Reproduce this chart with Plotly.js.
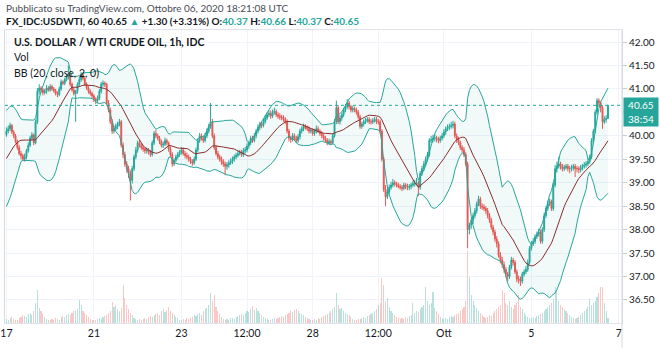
<!DOCTYPE html>
<html><head><meta charset="utf-8">
<script src="https://cdn.plot.ly/plotly-3.0.1.min.js"></script>
<style>html,body{margin:0;padding:0;background:#fff}#chart{width:660px;height:348px}</style>
</head><body><div id="chart"></div>
<script>
// Trading days shown (1h bars, 24 per day, weekends skipped)
const tradingDays = ['09-17','09-18','09-21','09-22','09-23','09-24','09-25','09-28','09-29','09-30','10-01','10-02','10-05','10-06','10-07'];
const tickTimes  = ['09-17 00','09-21 00','09-23 00','09-24 12','09-28 00','09-29 12','10-01 00','10-05 00','10-07 00'];
const tickLabels = ['17','21','23','12:00','28','12:00','Ott','5','7'];

// closes of the 20 hourly bars before the first visible bar (needed by BB(20))
const warmupClose = [38.80,38.82,38.78,38.85,38.90,38.92,38.95,39.05,39.20,39.40,39.55,39.70,39.85,39.90,40.00,40.05,39.98,40.10,40.15,40.05];

const open = [
40.02,40.10,40.15,40.22,40.08,40.00,39.88,39.75,39.62,39.58,
39.50,39.55,39.68,39.80,39.95,40.02,39.85,40.30,40.95,41.02,
40.98,40.92,40.95,41.02,40.98,41.05,41.00,40.96,40.90,40.88,
41.00,41.15,41.12,41.20,41.25,41.30,41.10,40.98,40.90,40.95,
41.10,41.20,41.30,41.22,41.10,41.02,40.95,40.90,40.85,40.78,
40.75,40.80,40.95,41.10,41.12,41.10,40.70,40.55,40.30,40.10,
40.15,40.20,40.25,40.30,39.80,39.60,39.40,39.30,39.20,39.05,
39.30,39.55,39.70,39.85,39.80,39.75,39.72,39.68,39.70,39.65,
39.60,39.85,40.05,40.00,39.95,39.88,39.80,39.82,39.90,39.85,
39.72,39.60,39.40,39.48,39.55,39.60,39.65,39.70,39.62,39.58,
39.55,39.50,39.45,39.42,39.50,39.70,39.90,40.00,39.95,39.90,
40.00,40.10,40.20,40.30,40.00,39.75,39.62,39.55,39.50,39.45,
39.40,39.35,39.38,39.42,39.45,39.50,39.55,39.58,39.62,39.65,
39.60,39.68,39.70,39.78,39.85,39.95,39.90,40.00,40.10,40.18,
40.25,40.22,40.30,40.38,40.45,40.48,40.42,40.50,40.52,40.45,
40.42,40.40,40.38,40.35,40.30,40.10,39.95,39.92,40.00,39.95,
39.90,39.98,40.10,40.15,40.20,40.18,40.15,40.10,40.12,40.05,
40.10,40.15,40.10,40.05,40.00,39.95,39.90,39.85,39.88,39.85,
40.00,40.30,40.60,40.30,40.38,40.45,40.55,40.62,40.70,40.62,
40.55,40.58,40.55,40.50,40.40,40.20,40.25,40.30,40.32,40.35,
40.30,40.30,40.32,40.35,40.30,40.30,40.10,39.50,38.85,38.70,
38.80,38.90,38.95,39.00,38.98,38.95,38.92,38.90,38.88,38.95,
38.92,38.90,38.92,38.95,38.98,39.00,39.00,38.90,39.20,39.30,
39.40,39.50,39.60,39.90,39.92,39.95,39.95,39.92,39.90,39.95,
40.00,40.08,40.15,40.18,40.20,40.22,40.25,40.00,39.92,39.85,
39.75,39.70,39.60,39.40,38.00,38.10,38.20,38.30,38.40,38.55,
38.65,38.50,38.48,38.45,38.40,38.30,38.20,38.05,37.95,37.80,
37.70,37.45,37.35,37.25,37.15,37.05,37.00,37.20,37.35,37.30,
37.10,36.95,36.92,36.90,37.05,37.10,37.15,37.30,37.60,37.70,
37.75,37.85,37.90,37.95,37.75,38.00,38.30,38.45,38.55,38.60,
38.45,38.95,39.30,39.35,39.40,39.35,39.30,39.32,39.35,39.30,
39.30,39.32,39.35,39.30,39.30,39.28,39.32,39.35,39.38,39.40,
39.45,39.55,39.90,40.10,40.50,40.75,40.70,40.60,40.30,40.35,40.37];
const high = [
40.18,40.22,40.28,40.25,40.12,40.04,39.92,39.80,39.68,39.62,
39.62,39.72,39.86,40.00,40.08,40.05,40.35,41.02,41.10,41.06,
41.02,41.00,41.08,41.06,41.10,41.09,41.04,41.00,40.95,41.05,
41.20,41.18,41.24,41.32,41.50,41.34,41.14,41.02,40.98,41.14,
41.26,41.36,41.34,41.26,41.14,41.06,40.99,40.94,40.89,40.82,
40.86,41.00,41.15,41.18,41.16,41.13,40.76,40.60,40.36,40.22,
40.26,40.30,40.36,40.34,39.86,39.66,39.46,39.36,39.26,39.36,
39.60,39.76,39.90,39.90,39.84,39.80,39.76,39.75,39.74,39.70,
39.90,40.10,40.12,40.05,40.00,39.92,39.88,39.96,39.94,39.88,
39.78,39.65,39.52,39.60,39.66,39.70,39.76,39.75,39.68,39.64,
39.60,39.55,39.50,39.56,39.75,39.95,40.06,40.05,40.00,40.06,
40.16,40.26,40.70,40.36,40.05,39.80,39.68,39.60,39.56,39.50,
39.45,39.44,39.48,39.52,39.56,39.60,39.64,39.68,39.70,39.70,
39.74,39.76,39.84,39.90,40.00,40.00,40.06,40.15,40.24,40.30,
40.30,40.36,40.44,40.50,40.55,40.54,40.56,40.60,40.56,40.50,
40.48,40.45,40.44,40.40,40.35,40.15,40.00,40.06,40.05,40.00,
40.04,40.15,40.20,40.26,40.25,40.22,40.20,40.17,40.16,40.15,
40.22,40.20,40.14,40.10,40.05,40.00,39.95,39.94,39.92,40.05,
40.36,40.75,40.65,40.44,40.50,40.60,40.68,40.78,40.74,40.66,
40.64,40.62,40.60,40.55,40.45,40.30,40.35,40.38,40.40,40.40,
40.36,40.38,40.40,40.40,40.36,40.34,40.14,39.55,38.95,38.88,
38.96,39.02,39.08,39.05,39.02,39.00,38.97,38.95,39.00,38.99,
38.98,38.97,39.00,39.04,39.06,39.10,39.05,39.25,39.36,39.46,
39.56,39.66,39.95,40.00,40.02,40.04,40.00,39.98,40.00,40.06,
40.14,40.20,40.24,40.26,40.30,40.32,40.30,40.05,39.98,39.90,
39.80,39.76,39.65,39.45,38.15,38.25,38.36,38.46,38.60,38.72,
38.70,38.56,38.54,38.50,38.46,38.35,38.25,38.10,38.00,37.86,
37.75,37.52,37.42,37.32,37.20,37.10,37.25,37.42,37.40,37.35,
37.15,37.02,37.00,37.10,37.15,37.22,37.36,37.65,37.76,37.82,
37.90,37.96,38.02,38.00,38.05,38.36,38.50,38.62,38.66,38.64,
39.00,39.38,39.45,39.55,39.45,39.40,39.38,39.40,39.40,39.36,
39.38,39.40,39.40,39.36,39.35,39.38,39.40,39.44,39.46,39.52,
39.60,39.95,40.15,40.56,40.80,40.80,40.74,40.65,40.42,40.44,40.66];
const low = [
39.98,40.05,40.10,40.04,39.95,39.84,39.70,39.58,39.50,39.46,
39.45,39.50,39.64,39.76,39.90,39.80,39.82,40.25,40.88,40.92,
40.86,40.88,40.90,40.94,40.94,40.96,40.92,40.86,40.82,40.84,
40.96,41.08,41.08,41.16,41.20,41.05,40.94,40.86,40.30,40.90,
41.05,41.15,41.18,41.06,40.98,40.90,40.86,40.80,40.72,40.68,
40.70,40.76,40.90,41.05,41.04,40.65,40.50,40.25,40.04,40.05,
40.10,40.14,40.20,39.75,39.52,39.34,39.22,39.10,38.62,38.98,
39.25,39.50,39.64,39.75,39.70,39.66,39.62,39.62,39.60,39.55,
39.56,39.80,39.95,39.90,39.82,39.75,39.74,39.78,39.80,39.66,
39.55,39.34,39.36,39.44,39.50,39.55,39.60,39.58,39.52,39.50,
39.45,39.40,39.36,39.38,39.46,39.65,39.85,39.90,39.85,39.86,
39.95,40.05,40.15,39.95,39.70,39.58,39.50,39.45,39.38,39.34,
39.16,39.28,39.32,39.38,39.40,39.45,39.50,39.54,39.58,39.55,
39.55,39.62,39.65,39.72,39.80,39.85,39.86,39.95,40.05,40.12,
40.16,40.18,40.26,40.34,40.40,40.36,40.38,40.45,40.40,40.36,
40.34,40.33,40.30,40.25,40.05,39.88,39.85,39.88,39.90,39.84,
39.85,39.92,40.05,40.10,40.13,40.10,40.05,40.05,40.00,40.00,
40.05,40.06,40.00,39.95,39.90,39.85,39.80,39.80,39.80,39.82,
39.96,40.25,40.25,40.24,40.32,40.40,40.50,40.58,40.56,40.50,
40.50,40.50,40.45,40.35,40.15,40.15,40.20,40.25,40.28,40.25,
40.24,40.25,40.28,40.25,40.24,40.05,39.45,38.80,38.50,38.65,
38.75,38.85,38.90,38.92,38.90,38.88,38.85,38.82,38.84,38.86,
38.84,38.84,38.86,38.90,38.92,38.94,38.72,38.85,39.15,39.25,
39.35,39.45,39.55,39.85,39.86,39.88,39.86,39.84,39.85,39.90,
39.95,40.02,40.10,40.12,40.15,40.16,39.95,39.85,39.80,39.70,
39.64,39.55,39.35,37.60,37.90,38.02,38.12,38.24,38.34,38.50,
38.44,38.42,38.40,38.34,38.24,38.14,38.00,37.88,37.74,37.62,
37.40,37.28,37.18,37.08,36.98,36.90,36.95,37.15,37.24,37.05,
36.88,36.85,36.80,36.85,37.00,37.05,37.10,37.25,37.55,37.65,
37.70,37.80,37.85,37.70,37.70,37.95,38.25,38.40,38.50,38.40,
38.40,38.90,39.22,39.30,39.28,39.24,39.25,39.28,39.24,39.20,
39.24,39.26,39.12,39.22,39.20,39.22,39.26,39.30,39.32,39.35,
39.40,39.50,39.85,40.05,40.45,40.62,40.50,40.15,40.25,40.28,40.37];
const close = [
40.10,40.15,40.22,40.08,40.00,39.88,39.75,39.62,39.58,39.50,
39.55,39.68,39.80,39.95,40.02,39.85,40.30,40.95,41.02,40.98,
40.92,40.95,41.02,40.98,41.05,41.00,40.96,40.90,40.88,41.00,
41.15,41.12,41.20,41.25,41.30,41.10,40.98,40.90,40.95,41.10,
41.20,41.30,41.22,41.10,41.02,40.95,40.90,40.85,40.78,40.75,
40.80,40.95,41.10,41.12,41.10,40.70,40.55,40.30,40.10,40.15,
40.20,40.25,40.30,39.80,39.60,39.40,39.30,39.20,39.05,39.30,
39.55,39.70,39.85,39.80,39.75,39.72,39.68,39.70,39.65,39.60,
39.85,40.05,40.00,39.95,39.88,39.80,39.82,39.90,39.85,39.72,
39.60,39.40,39.48,39.55,39.60,39.65,39.70,39.62,39.58,39.55,
39.50,39.45,39.42,39.50,39.70,39.90,40.00,39.95,39.90,40.00,
40.10,40.20,40.30,40.00,39.75,39.62,39.55,39.50,39.45,39.40,
39.35,39.38,39.42,39.45,39.50,39.55,39.58,39.62,39.65,39.60,
39.68,39.70,39.78,39.85,39.95,39.90,40.00,40.10,40.18,40.25,
40.22,40.30,40.38,40.45,40.48,40.42,40.50,40.52,40.45,40.42,
40.40,40.38,40.35,40.30,40.10,39.95,39.92,40.00,39.95,39.90,
39.98,40.10,40.15,40.20,40.18,40.15,40.10,40.12,40.05,40.10,
40.15,40.10,40.05,40.00,39.95,39.90,39.85,39.88,39.85,40.00,
40.30,40.60,40.30,40.38,40.45,40.55,40.62,40.70,40.62,40.55,
40.58,40.55,40.50,40.40,40.20,40.25,40.30,40.32,40.35,40.30,
40.30,40.32,40.35,40.30,40.30,40.10,39.50,38.85,38.70,38.80,
38.90,38.95,39.00,38.98,38.95,38.92,38.90,38.88,38.95,38.92,
38.90,38.92,38.95,38.98,39.00,39.00,38.90,39.20,39.30,39.40,
39.50,39.60,39.90,39.92,39.95,39.95,39.92,39.90,39.95,40.00,
40.08,40.15,40.18,40.20,40.22,40.25,40.00,39.92,39.85,39.75,
39.70,39.60,39.40,38.00,38.10,38.20,38.30,38.40,38.55,38.65,
38.50,38.48,38.45,38.40,38.30,38.20,38.05,37.95,37.80,37.70,
37.45,37.35,37.25,37.15,37.05,37.00,37.20,37.35,37.30,37.10,
36.95,36.92,36.90,37.05,37.10,37.15,37.30,37.60,37.70,37.75,
37.85,37.90,37.95,37.75,38.00,38.30,38.45,38.55,38.60,38.45,
38.95,39.30,39.35,39.40,39.35,39.30,39.32,39.35,39.30,39.30,
39.32,39.35,39.30,39.30,39.28,39.32,39.35,39.38,39.40,39.45,
39.55,39.90,40.10,40.50,40.75,40.70,40.60,40.30,40.35,40.37,40.65];
const volume = [
4,3,5,6,4,3,3,5,6,8,7,6,9,10,8,12,20,33,15,12,9,6,4,3,
3,4,3,5,4,3,6,7,6,8,9,8,10,12,12,14,23,18,12,10,8,6,4,3,
3,3,4,5,4,6,7,8,10,12,21,16,18,14,12,15,38,25,18,14,10,8,5,4,
3,4,3,4,5,4,6,7,6,8,9,10,8,12,14,11,13,16,12,10,8,6,5,3,
3,4,3,5,4,5,6,8,7,9,10,8,12,14,15,18,30,22,28,16,12,9,6,4,
3,4,3,5,5,4,6,7,8,9,8,10,12,11,14,17,13,15,12,10,8,6,5,4,
3,3,4,5,4,5,6,7,6,8,9,10,12,11,13,14,12,10,9,8,6,5,4,3,
3,4,3,5,4,6,7,8,9,10,12,14,16,30,18,14,15,12,10,9,8,6,4,3,
3,4,4,5,6,5,7,8,9,10,12,14,18,20,45,38,22,25,16,12,10,8,6,5,
4,5,4,6,5,7,8,20,10,12,11,14,16,18,36,22,18,20,31,15,12,9,6,5,
4,5,4,6,7,6,8,9,10,12,14,16,22,72,46,28,22,18,15,12,10,8,6,5,
6,8,7,10,12,14,16,18,33,30,20,18,22,16,14,18,20,28,16,14,10,8,6,5,
5,6,5,7,8,9,10,12,14,16,18,20,24,36,32,22,18,16,14,12,10,8,6,5,
4,5,6,8,10,12,14,16,24,18,20,22,26,30,36,36,20,12,5];

const UP = '#26a69a', DOWN = '#ef5350';
const n = close.length;
const x = close.map((_, i) => i);
const barOf = t => tradingDays.indexOf(t.slice(0,5)) * 24 + parseInt(t.slice(6), 10);
const tickVals = tickTimes.map(barOf);

// Bollinger Bands (20, close, 2)
const all = warmupClose.concat(close);
const basis = [], upper = [], lower = [];
for (let i = 0; i < n; i++) {
  const j = i + warmupClose.length;
  const w = all.slice(j - 19, j + 1);
  const m = w.reduce((a, b) => a + b, 0) / w.length;
  const sd = Math.sqrt(w.reduce((a, b) => a + (b - m) * (b - m), 0) / w.length);
  basis.push(m); upper.push(m + 2 * sd); lower.push(m - 2 * sd);
}
const volColors = close.map((c, i) => c >= open[i] ? 'rgba(38,166,154,0.32)' : 'rgba(239,83,80,0.32)');

const ML = 5, MR = 38, MT = 30, MB = 25, W = 660, H = 348;
const PW = W - ML - MR, PH = H - MT - MB;
const XP = px => (px - ML) / PW;
const YP = py => (H - MB - py) / PH;
const FONT = 'Lato, "Liberation Sans", sans-serif';
const last = close[n - 1];
const yMin = 36.009, yMax = 42.256;
// price-scale labels every 0.50, hidden where the last-price tag sits
const priceTicks = [];
for (let v = Math.ceil(yMin * 2) / 2; v <= yMax; v += 0.5) {
  if (Math.abs(v - last) > 0.3) priceTicks.push(v);
}

const traces = [
  {type: 'bar', x: x, y: volume, yaxis: 'y2', marker: {color: volColors, line: {width: 0}}, width: 0.6, hoverinfo: 'skip'},
  {type: 'scatter', mode: 'lines', x: x, y: lower, line: {color: '#26a69a', width: 1}, hoverinfo: 'skip'},
  {type: 'scatter', mode: 'lines', x: x, y: upper, line: {color: '#26a69a', width: 1}, fill: 'tonexty', fillcolor: 'rgba(38,166,154,0.06)', hoverinfo: 'skip'},
  {type: 'scatter', mode: 'lines', x: x, y: basis, line: {color: '#8a2d2d', width: 1}, hoverinfo: 'skip'},
  {type: 'candlestick', x: x, open: open, high: high, low: low, close: close,
   increasing: {line: {color: UP, width: 1}, fillcolor: UP},
   decreasing: {line: {color: DOWN, width: 1}, fillcolor: DOWN},
   whiskerwidth: 0, hoverinfo: 'skip'}
];

const hdr2 = '<b>FX_IDC:USDWTI, 60 40.65 <span style="color:#26a69a">▲</span> +1.30 (+3.31%) O:<span style="color:#26a69a">40.37</span> H:<span style="color:#26a69a">40.66</span> L:<span style="color:#26a69a">40.37</span> C:<span style="color:#26a69a">40.65</span></b>';

const layout = {
  width: W, height: H,
  margin: {l: ML, r: MR, t: MT, b: MB, pad: 0},
  paper_bgcolor: '#ffffff', plot_bgcolor: '#ffffff',
  showlegend: false, dragmode: false,
  font: {family: FONT, size: 10, color: '#131722'},
  xaxis: {
    range: [-0.77, 337.7], rangeslider: {visible: false}, fixedrange: true,
    tickmode: 'array', tickvals: tickVals, ticktext: tickLabels,
    showgrid: true, gridcolor: '#f0f3fa', gridwidth: 1, zeroline: false,
    ticks: '', tickfont: {family: FONT, size: 10.5, color: '#131722'},
    showline: true, linecolor: '#e0e3eb', linewidth: 1, mirror: true
  },
  yaxis: {
    range: [yMin, yMax], side: 'right', fixedrange: true,
    tickmode: 'array', tickvals: priceTicks, tickformat: '.2f',
    showgrid: true, gridcolor: '#f0f3fa', gridwidth: 1, zeroline: false,
    ticks: 'outside', ticklen: 4, tickcolor: '#c8ccd4',
    tickfont: {family: FONT, size: 10, color: '#131722'},
    showline: true, linecolor: '#d6dae2', linewidth: 1, mirror: true
  },
  yaxis2: {overlaying: 'y', range: [0, PH], visible: false, fixedrange: true},
  bargap: 0,
  shapes: [
    {type: 'line', xref: 'paper', yref: 'y', x0: 0, x1: 1, y0: last, y1: last, line: {color: '#26a69a', width: 1, dash: 'dot'}},
    {type: 'line', xref: 'paper', yref: 'paper', x0: 1, x1: 1, y0: YP(348), y1: 1, line: {color: '#d6dae2', width: 1}}
  ],
  annotations: [
    {xref: 'paper', yref: 'paper', x: XP(4), y: YP(8), xanchor: 'left', yanchor: 'middle', showarrow: false,
     text: 'Pubblicato su TradingView.com, Ottobre 06, 2020 18:21:08 UTC', font: {family: FONT, size: 10, color: '#4a4e58'}},
    {xref: 'paper', yref: 'paper', x: XP(4), y: YP(21), xanchor: 'left', yanchor: 'middle', showarrow: false,
     text: hdr2, font: {family: FONT, size: 10, color: '#131722'}},
    {xref: 'paper', yref: 'paper', x: XP(12), y: YP(42), xanchor: 'left', yanchor: 'middle', showarrow: false,
     text: '<b>U.S. DOLLAR / WTI CRUDE OIL, 1h, IDC</b>', font: {family: FONT, size: 10.5, color: '#131722'}},
    {xref: 'paper', yref: 'paper', x: XP(12), y: YP(57), xanchor: 'left', yanchor: 'middle', showarrow: false,
     text: 'Vol', font: {family: FONT, size: 10.5, color: '#131722'}},
    {xref: 'paper', yref: 'paper', x: XP(12), y: YP(73), xanchor: 'left', yanchor: 'middle', showarrow: false,
     text: 'BB (20, close, 2, 0)', font: {family: FONT, size: 10.5, color: '#131722'}},
    {xref: 'paper', yref: 'y', x: 1, y: last, xanchor: 'left', yanchor: 'middle', xshift: 1, showarrow: false,
     text: last.toFixed(2), bgcolor: UP, borderpad: 1, width: 32, height: 12, font: {family: FONT, size: 10, color: '#ffffff'}},
    {xref: 'paper', yref: 'y', x: 1, y: last, xanchor: 'left', yanchor: 'middle', xshift: 1, yshift: -14, showarrow: false,
     text: '38:54', bgcolor: UP, borderpad: 1, width: 32, height: 12, font: {family: FONT, size: 10, color: '#ffffff'}}
  ]
};

Plotly.newPlot('chart', traces, layout, {displayModeBar: false, staticPlot: true});
</script></body></html>
